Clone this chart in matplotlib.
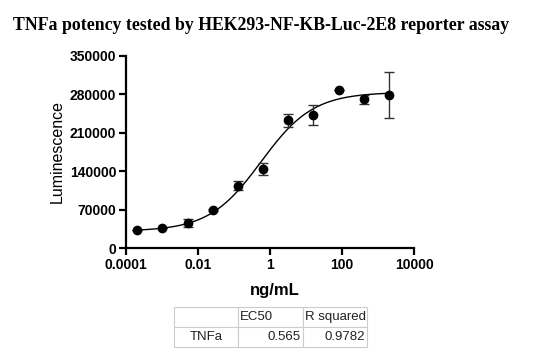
import numpy as np
import matplotlib
matplotlib.use("Agg")
import matplotlib.pyplot as plt

# Data
conc = [0.0002048, 0.001024, 0.00512, 0.0256, 0.128, 0.64, 3.2, 16, 80, 400, 2000]
lum = [32800, 35800, 46000, 69200, 113400, 143800, 232400, 241500, 287600, 270600, 278500]
err = [0, 0, 6900, 2000, 8200, 10600, 12000, 17900, 0, 8200, 42500]

# 4PL fit parameters
bottom, top, ec50, hill = 30500, 283500, 0.565, 0.6

table_cols = ["", "EC50", "R squared"]
table_rows = [["TNFa", "0.565", "0.9782"]]

xticks = [1e-4, 1e-2, 1, 100, 10000]
xticklabels = ["0.0001", "0.01", "1", "100", "10000"]
yticks = [0, 70000, 140000, 210000, 280000, 350000]

fig = plt.figure(figsize=(5.4, 3.61), dpi=100)
ax = fig.add_axes([126/540, 1-248/361, 288/540, (248-55.7)/361])

xs = np.logspace(np.log10(conc[0]), np.log10(conc[-1]), 400)
ys = bottom + (top - bottom) / (1 + (ec50 / xs) ** hill)
ax.plot(xs, ys, color="black", lw=1.0, zorder=2)
ax.errorbar(conc, lum, yerr=err, fmt="o", color="black", ms=6,
            ecolor="#333333", elinewidth=1.0, capsize=3.5, capthick=1.0, zorder=3)

ax.set_xscale("log")
ax.set_xlim(1e-4, 1e4)
ax.set_ylim(0, 350000)
ax.set_xticks(xticks)
ax.set_xticklabels(xticklabels)
ax.minorticks_off()
ax.set_yticks(yticks)
ax.set_yticklabels([str(v) for v in yticks])
for s in ["top", "right"]:
    ax.spines[s].set_visible(False)
for s in ["left", "bottom"]:
    ax.spines[s].set_linewidth(1.6)
ax.tick_params(width=1.6, length=5, labelsize=10, direction="out", pad=2)
for lab in ax.get_xticklabels() + ax.get_yticklabels():
    lab.set_fontfamily("Liberation Sans")
    lab.set_fontweight("bold")

ax.set_xlabel("ng/mL", fontfamily="Liberation Sans", fontweight="bold", fontsize=12)
ax.xaxis.set_label_coords((275-126)/288, -(290-248)/192.3)
ax.xaxis.label.set_va("center")
ax.set_ylabel("Luminescence", fontfamily="Liberation Sans", fontsize=11.5)
ax.yaxis.set_label_coords(-(126-65)/288, 0.5)

fig.text(261/540, 1-25/361, "TNFa potency tested by HEK293-NF-KB-Luc-2E8 reporter assay",
         ha="center", va="center", fontfamily="Liberation Serif", fontweight="bold", fontsize=12.8)

tax = fig.add_axes([174/540, 1-347/361, 193/540, 40/361])
tax.axis("off")
tbl = tax.table(cellText=table_rows, colLabels=table_cols, loc="center",
                bbox=[0, 0, 1, 1], cellLoc="center")
tbl.auto_set_font_size(False)
for (r, c), cell in tbl.get_celld().items():
    cell.set_edgecolor("#cccccc")
    cell.set_linewidth(0.8)
    cell.get_text().set_fontsize(9.5)
    cell.get_text().set_fontfamily("Liberation Sans")
    cell.get_text().set_color("#222222")
    if r == 0 and c > 0:
        cell.get_text().set_ha("left")
        cell.PAD = 0.03
    elif r == 1 and c > 0:
        cell.get_text().set_ha("right")
        cell.PAD = 0.03

fig.savefig("out.png", dpi=100)
